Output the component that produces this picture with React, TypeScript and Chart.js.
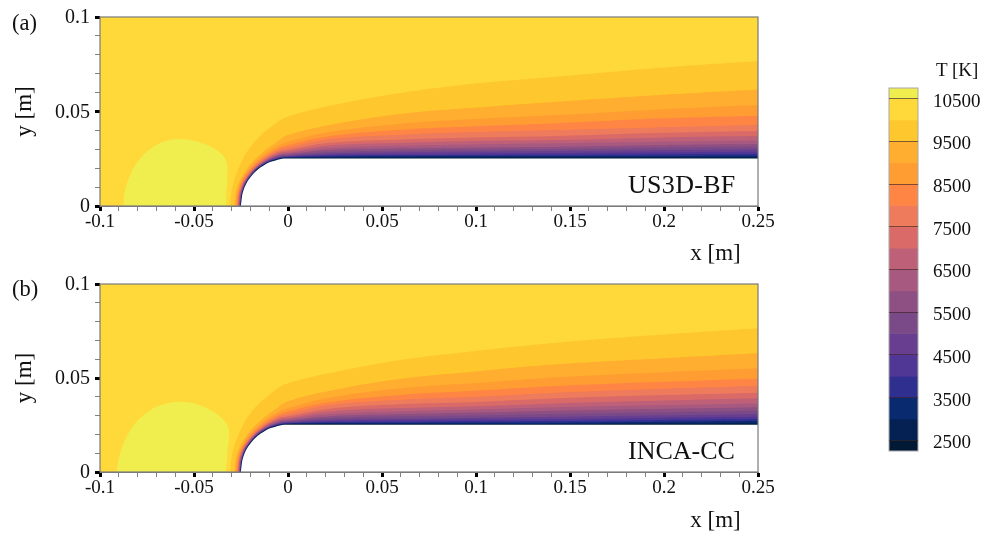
import React, { useEffect, useRef } from "react";
import { Chart, registerables } from "chart.js";

Chart.register(...registerables);

const SERIF = '"Liberation Serif", serif';

// Temperature levels and band colours (top of colour bar downwards)
const barEdges = [10750, 10500, 10000, 9500, 9000, 8500, 8000, 7500, 7000, 6500, 6000, 5500, 5000, 4500, 4000, 3500, 3000, 2500, 2250];
const barColors = ["#F0EE4E", "#FFD83A", "#FFC72E", "#FFAE2F", "#FF9D33", "#FF8544", "#EE7B5B", "#D96A68", "#BE6178", "#A8597F", "#8E5083", "#7A4A88", "#683F90", "#503796", "#2F2F90", "#0A2A70", "#052052", "#001A35"];
const barTicks = [2500, 3500, 4500, 5500, 6500, 7500, 8500, 9500, 10500];

// Nose angles (deg) and radii of iso-temperature contours, 10000 K downwards to 2500 K
const noseAngles = [180, 160, 140, 120, 100, 90];
const noseRadii = [
  [0.0309, 0.0313, 0.0334, 0.0377, 0.0436, 0.0472],
  [0.0286, 0.0288, 0.0292, 0.0308, 0.0344, 0.0376],
  [0.0279, 0.028, 0.0283, 0.0294, 0.0321, 0.034],
  [0.0274, 0.0275, 0.0277, 0.0286, 0.0308, 0.0322],
  [0.027, 0.0271, 0.0272, 0.0279, 0.0298, 0.0307],
  [0.0267, 0.0268, 0.0268, 0.0274, 0.029, 0.0296],
  [0.0264, 0.0265, 0.0265, 0.027, 0.0284, 0.0287],
  [0.0262, 0.0262, 0.0263, 0.0267, 0.0278, 0.0281],
  [0.026, 0.026, 0.0261, 0.0264, 0.0272, 0.0274],
  [0.0258, 0.0259, 0.0259, 0.0262, 0.0268, 0.027],
  [0.0257, 0.0257, 0.0257, 0.0259, 0.0264, 0.0265],
  [0.0256, 0.0256, 0.0256, 0.0258, 0.0261, 0.0262],
  [0.0255, 0.0255, 0.0255, 0.0256, 0.0258, 0.0259],
  [0.0254, 0.0254, 0.0254, 0.0255, 0.0256, 0.0256],
  [0.0253, 0.0253, 0.0253, 0.0254, 0.0254, 0.0255],
  [0.0252, 0.0252, 0.0252, 0.0253, 0.0253, 0.0253],
];
const bodyRadii = [0.0251, 0.0251, 0.0251, 0.0251, 0.0251, 0.0251];

// Contour heights along the flat wall
const wallX = [0.0223, 0.06, 0.1, 0.143, 0.2, 0.25];
const bodyHeights = [0.0251, 0.0251, 0.0251, 0.0251, 0.0251, 0.0251];
const wallHeightsA = [
  [0.053, 0.0598, 0.0648, 0.0684, 0.0733, 0.0767],
  [0.0429, 0.0487, 0.0521, 0.0552, 0.0589, 0.0617],
  [0.0391, 0.0435, 0.046, 0.0481, 0.0512, 0.0534],
  [0.0369, 0.0403, 0.0422, 0.0438, 0.0464, 0.0478],
  [0.0353, 0.0377, 0.0391, 0.0402, 0.0417, 0.0429],
  [0.0334, 0.0352, 0.0362, 0.037, 0.0387, 0.0397],
  [0.032, 0.0334, 0.0344, 0.0349, 0.0363, 0.037],
  [0.0307, 0.0319, 0.0326, 0.0332, 0.034, 0.0346],
  [0.0296, 0.0305, 0.031, 0.0314, 0.0323, 0.0328],
  [0.0286, 0.0294, 0.0299, 0.0302, 0.031, 0.0314],
  [0.0278, 0.0284, 0.0288, 0.0291, 0.0296, 0.03],
  [0.0271, 0.0275, 0.0278, 0.028, 0.0284, 0.0287],
  [0.0266, 0.0268, 0.027, 0.0271, 0.0274, 0.0275],
  [0.0261, 0.0263, 0.0264, 0.0265, 0.0265, 0.0266],
  [0.0257, 0.0258, 0.0258, 0.0259, 0.0259, 0.0259],
  [0.0254, 0.0254, 0.0254, 0.0254, 0.0254, 0.0254],
];
const wallHeightsB = [
  [0.0527, 0.0596, 0.0644, 0.0688, 0.0731, 0.0764],
  [0.0432, 0.0496, 0.0535, 0.0573, 0.0605, 0.0631],
  [0.0395, 0.0445, 0.0473, 0.0504, 0.0531, 0.0552],
  [0.0372, 0.041, 0.0432, 0.0457, 0.048, 0.0498],
  [0.0356, 0.0384, 0.04, 0.0422, 0.0443, 0.0459],
  [0.0337, 0.036, 0.0372, 0.0392, 0.0409, 0.0422],
  [0.0322, 0.034, 0.035, 0.0365, 0.038, 0.0392],
  [0.0308, 0.0323, 0.0332, 0.0344, 0.0356, 0.0365],
  [0.0297, 0.0308, 0.0316, 0.0326, 0.0336, 0.0344],
  [0.0287, 0.0296, 0.0302, 0.0309, 0.0318, 0.0326],
  [0.0278, 0.0284, 0.0289, 0.0294, 0.0302, 0.0309],
  [0.0271, 0.0275, 0.0279, 0.0282, 0.0289, 0.0294],
  [0.0265, 0.0267, 0.027, 0.0271, 0.0277, 0.0282],
  [0.026, 0.0261, 0.0262, 0.0262, 0.0267, 0.0271],
  [0.0256, 0.0256, 0.0257, 0.0256, 0.0259, 0.0261],
  [0.0253, 0.0253, 0.0253, 0.0253, 0.0254, 0.0254],
];

// Hot plume upstream of the body (above 10500 K)
const plumeXA = [-0.0876, -0.0867, -0.0823, -0.0752, -0.0663, -0.0574, -0.0468, -0.0379, -0.0335, -0.0321, -0.0321];
const plumeYA = [0, 0.0085, 0.0199, 0.0287, 0.034, 0.0354, 0.0337, 0.0296, 0.0252, 0.0199, 0];
const plumeEdgeXA = [-0.0331, -0.0326, -0.0321];
const plumeEdgeYA = [0, 0.0102, 0.0199];
const plumeXB = [-0.0911, -0.0902, -0.0867, -0.0805, -0.0716, -0.0628, -0.0574, -0.0486, -0.0397, -0.0335, -0.0314, -0.0314];
const plumeYB = [0, 0.0064, 0.017, 0.0268, 0.0339, 0.0369, 0.0374, 0.0362, 0.0321, 0.0268, 0.0223, 0];
const plumeEdgeXB = [-0.033, -0.0318, -0.0314];
const plumeEdgeYB = [0, 0.0153, 0.0223];

const domainX = [-0.1, 0.25];
const domainTop = [0.1, 0.1];

const xy = (xs: number[], ys: number[]) => xs.map((x, i) => ({ x, y: ys[i] }));
const contour = (radii: number[], heights: number[]) => [
  ...noseAngles.map((deg, i) => ({
    x: radii[i] * Math.cos((deg * Math.PI) / 180),
    y: Math.max(0, radii[i] * Math.sin((deg * Math.PI) / 180)),
  })),
  ...xy(wallX, heights),
];

const area = (data: { x: number; y: number }[], color: string, tension = 0.4) => ({
  data,
  showLine: true,
  fill: "origin",
  backgroundColor: color,
  borderWidth: 0,
  pointRadius: 0,
  tension,
});

const framePlugin = (color: string, width: number) => ({
  id: "frame",
  afterDatasetsDraw(chart: any) {
    const { ctx, chartArea: a } = chart;
    ctx.save();
    ctx.strokeStyle = color;
    ctx.lineWidth = width;
    ctx.strokeRect(a.left, a.top, a.right - a.left, a.bottom - a.top);
    ctx.restore();
  },
});

const isMajor = (v: number) => Math.abs(v / 0.05 - Math.round(v / 0.05)) < 1e-6;
const tickLabel = (v: number) => (isMajor(v) ? String(Math.round(v * 100) / 100) : "");

function makeField(
  canvas: HTMLCanvasElement,
  heights: number[][],
  plume: { x: number; y: number }[],
  plumeEdge: { x: number; y: number }[],
  plotBottom: number
) {
  const paintOrder = [
    area(xy(domainX, domainTop), barColors[1], 0),
    area(plume, barColors[0], 0.3),
    area(plumeEdge, barColors[1], 0),
    ...heights.map((h, i) => area(contour(noseRadii[i], h), barColors[i + 2])),
    area(contour(bodyRadii, bodyHeights), "#FFFFFF"),
  ];
  const tickGrid = {
    drawOnChartArea: false,
    drawTicks: true,
    tickLength: 5,
    tickColor: (c: any) => (c.tick && isMajor(c.tick.value) ? "#000000" : "#808080"),
    tickWidth: (c: any) => (c.tick && isMajor(c.tick.value) ? 3 : 1),
  };
  return new Chart(canvas, {
    type: "line",
    data: { datasets: paintOrder.reverse() as any },
    plugins: [framePlugin("#7a7a7a", 1.2)],
    options: {
      responsive: false,
      animation: false,
      devicePixelRatio: 1,
      layout: { padding: { top: 17, right: 32, left: 0, bottom: 0 } },
      plugins: { legend: { display: false }, tooltip: { enabled: false }, title: { display: false } },
      scales: {
        x: {
          type: "linear",
          min: -0.1,
          max: 0.25,
          afterFit: (s: any) => {
            s.height = plotBottom;
          },
          grid: tickGrid,
          border: { color: "#7a7a7a" },
          ticks: {
            stepSize: 0.01,
            autoSkip: false,
            maxRotation: 0,
            padding: 0,
            color: "#111",
            font: { family: SERIF, size: 19 },
            callback: (v: any) => tickLabel(Number(v)),
          },
          title: {
            display: true,
            text: "x [m]\u00A0\u00A0\u00A0",
            align: "end",
            color: "#111",
            font: { family: SERIF, size: 23 },
            padding: { top: 0, bottom: 0 },
          },
        },
        y: {
          type: "linear",
          min: 0,
          max: 0.1,
          afterFit: (s: any) => {
            s.width = 100;
          },
          grid: tickGrid,
          border: { color: "#7a7a7a" },
          ticks: {
            stepSize: 0.01,
            autoSkip: false,
            padding: 5,
            labelOffset: 1,
            color: "#111",
            font: { family: SERIF, size: 20 },
            callback: (v: any) => tickLabel(Number(v)),
          },
          title: {
            display: true,
            text: "y [m]",
            color: "#111",
            font: { family: SERIF, size: 23 },
            padding: { top: 11, bottom: 0 },
          },
        },
      },
    } as any,
  });
}

function makeBar(canvas: HTMLCanvasElement) {
  const datasets = barColors.map((color, i) => ({
    data: [[barEdges[i + 1], barEdges[i]]],
    backgroundColor: color,
    borderWidth: 0,
    grouped: false,
    barPercentage: 1,
    categoryPercentage: 1,
  }));
  return new Chart(canvas, {
    type: "bar",
    data: { labels: ["T [K]"], datasets: datasets as any },
    plugins: [framePlugin("#a8a8a8", 1)],
    options: {
      responsive: false,
      animation: false,
      devicePixelRatio: 1,
      layout: { padding: { top: 8, left: 19, right: 0, bottom: 9 } },
      plugins: { legend: { display: false }, tooltip: { enabled: false } },
      scales: {
        x: { display: false },
        y: {
          position: "right",
          min: 2250,
          max: 10750,
          afterBuildTicks: (s: any) => {
            s.ticks = barTicks.map((value) => ({ value }));
          },
          afterFit: (s: any) => {
            s.width = 67;
            s.paddingTop = 0;
            s.paddingBottom = 0;
          },
          grid: { z: 1, color: "rgba(60,35,40,0.65)", lineWidth: 1, drawTicks: false },
          border: { display: false },
          ticks: {
            autoSkip: false,
            padding: 15,
            labelOffset: 3,
            color: "#111",
            font: { family: SERIF, size: 19 },
            callback: (v: any) => String(v),
          },
        },
      },
    } as any,
  });
}

const textStyle = (left: number, centerY: number, size: number): React.CSSProperties => ({
  position: "absolute",
  left,
  top: centerY - size * 0.6,
  fontFamily: SERIF,
  fontSize: size,
  lineHeight: `${size * 1.2}px`,
  color: "#111",
  whiteSpace: "nowrap",
});

const canvasStyle = (left: number, top: number): React.CSSProperties => ({ position: "absolute", left, top, display: "block" });

export default function App() {
  const a = useRef<HTMLCanvasElement>(null);
  const b = useRef<HTMLCanvasElement>(null);
  const c = useRef<HTMLCanvasElement>(null);
  useEffect(() => {
    const charts = [
      makeField(a.current!, wallHeightsA, xy(plumeXA, plumeYA), xy(plumeEdgeXA, plumeEdgeYA), 62),
      makeField(b.current!, wallHeightsB, xy(plumeXB, plumeYB), xy(plumeEdgeXB, plumeEdgeYB), 63),
      makeBar(c.current!),
    ];
    return () => charts.forEach((ch) => ch.destroy());
  }, []);
  return (
    <div style={{ position: "fixed", left: 0, top: 0, width: 985, height: 536, background: "#fff", overflow: "hidden" }}>
      <canvas ref={a} width={790} height={268} style={canvasStyle(0, 0)} />
      <canvas ref={b} width={790} height={268} style={canvasStyle(0, 267)} />
      <canvas ref={c} width={115} height={380} style={canvasStyle(870, 80)} />
      <div style={textStyle(12, 22, 22.5)}>(a)</div>
      <div style={textStyle(12, 288, 22.5)}>(b)</div>
      <div style={{ ...textStyle(628, 185, 26), letterSpacing: 0.3 }}>US3D-BF</div>
      <div style={textStyle(628, 451, 26)}>INCA-CC</div>
      <div style={textStyle(936, 70, 19)}>T [K]</div>
    </div>
  );
}
